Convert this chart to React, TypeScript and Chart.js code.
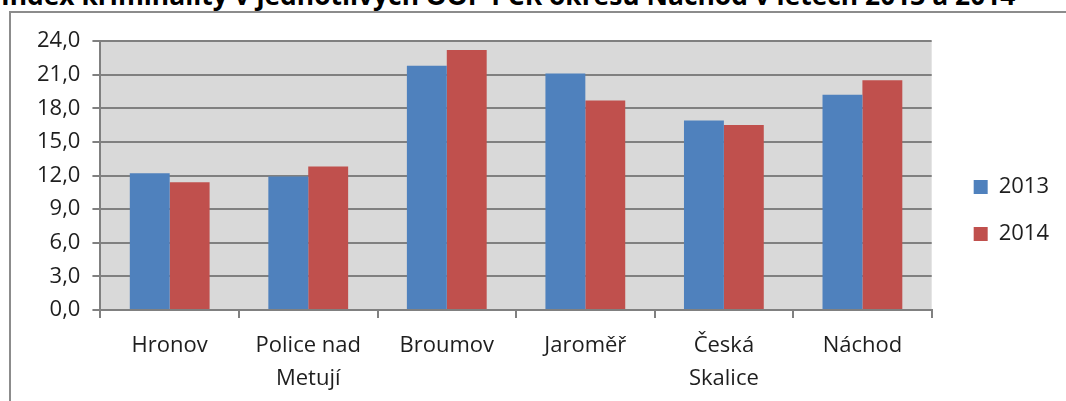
import React, { useEffect, useRef } from "react";
import { Chart, registerables } from "chart.js";

Chart.register(...registerables);

const TITLE = "Index kriminality v jednotlivých OOP PČR okresu Náchod v letech 2013 a 2014";
const categories: (string | string[])[] = [
  "Hronov",
  ["Police nad", "Metují"],
  "Broumov",
  "Jaroměř",
  ["Česká", "Skalice"],
  "Náchod",
];
const seriesNames = ["2013", "2014"];
const values2013 = [12.2, 11.9, 21.8, 21.1, 16.9, 19.2];
const values2014 = [11.4, 12.8, 23.2, 18.7, 16.5, 20.5];
const yMin = 0;
const yMax = 24;
const yStep = 3;

const FONT = "'Open Sans', 'Noto Sans', sans-serif";
const GRID = "#808080";
const TEXT = "#1e1e1e";

const plotBg = {
  id: "plotBg",
  beforeDraw(chart: any) {
    const { ctx, chartArea } = chart;
    if (!chartArea) return;
    ctx.save();
    ctx.fillStyle = "#d9d9d9";
    ctx.fillRect(chartArea.left, chartArea.top, chartArea.right - chartArea.left, chartArea.bottom - chartArea.top);
    ctx.restore();
  },
};

const legendShift = {
  id: "legendShift",
  afterLayout(chart: any) {
    const lg = chart.legend;
    if (!lg) return;
    const dx = 17;
    const dy = -13;
    lg.left += dx;
    lg.right += dx;
    lg.top += dy;
    lg.bottom += dy;
  },
};

export default function App() {
  const ref = useRef<HTMLCanvasElement>(null);
  useEffect(() => {
    if (!ref.current) return;
    const chart = new Chart(ref.current, {
      type: "bar",
      data: {
        labels: categories,
        datasets: [
          {
            label: seriesNames[0],
            data: values2013,
            backgroundColor: "#4f81bd",
            categoryPercentage: 0.576,
            barPercentage: 1,
          },
          {
            label: seriesNames[1],
            data: values2014,
            backgroundColor: "#c0504d",
            categoryPercentage: 0.576,
            barPercentage: 1,
          },
        ],
      },
      options: {
        responsive: false,
        animation: false,
        devicePixelRatio: 1,
        layout: { padding: { left: 25, right: 24, top: 41, bottom: 6 } },
        plugins: {
          title: { display: false },
          tooltip: { enabled: false },
          legend: {
            display: true,
            position: "right",
            labels: {
              boxWidth: 14,
              boxHeight: 14,
              padding: 25,
              color: TEXT,
              font: { family: FONT, size: 22 },
            },
          },
        },
        scales: {
          x: {
            offset: true,
            grid: {
              display: true,
              drawOnChartArea: false,
              drawTicks: true,
              tickLength: 8,
              color: GRID,
              lineWidth: 2,
              offset: true,
            },
            border: { display: true, color: GRID, width: 2 },
            ticks: {
              color: TEXT,
              padding: 11,
              maxRotation: 0,
              autoSkip: false,
              font: { family: FONT, size: 22, lineHeight: 1.5 },
            },
          },
          y: {
            min: yMin,
            max: yMax,
            grid: {
              color: GRID,
              lineWidth: 2,
              drawTicks: true,
              tickLength: 8,
            },
            border: { display: true, color: GRID, width: 2 },
            ticks: {
              stepSize: yStep,
              color: TEXT,
              padding: 12,
              font: { family: FONT, size: 22 },
              callback: (v: any) => Number(v).toFixed(1).replace(".", ","),
            },
          },
        },
      },
      plugins: [plotBg, legendShift],
    });
    return () => chart.destroy();
  }, []);

  return (
    <div
      style={{
        position: "fixed",
        left: 0,
        top: 0,
        width: 1066,
        height: 401,
        overflow: "hidden",
        background: "#fff",
      }}
    >
      <div
        style={{
          position: "absolute",
          left: 1,
          top: -18,
          whiteSpace: "nowrap",
          fontFamily: FONT,
          fontWeight: 700,
          fontSize: 26.4,
          lineHeight: "26px",
          color: "#000",
        }}
      >
        {TITLE}
      </div>
      <div
        style={{
          position: "absolute",
          left: 9,
          top: 11,
          width: 1100,
          height: 500,
          border: "2px solid #8c8c8c",
        }}
      />
      <canvas
        ref={ref}
        width={1066}
        height={412}
        style={{ position: "absolute", left: 0, top: 0, width: 1066, height: 412 }}
      />
    </div>
  );
}
